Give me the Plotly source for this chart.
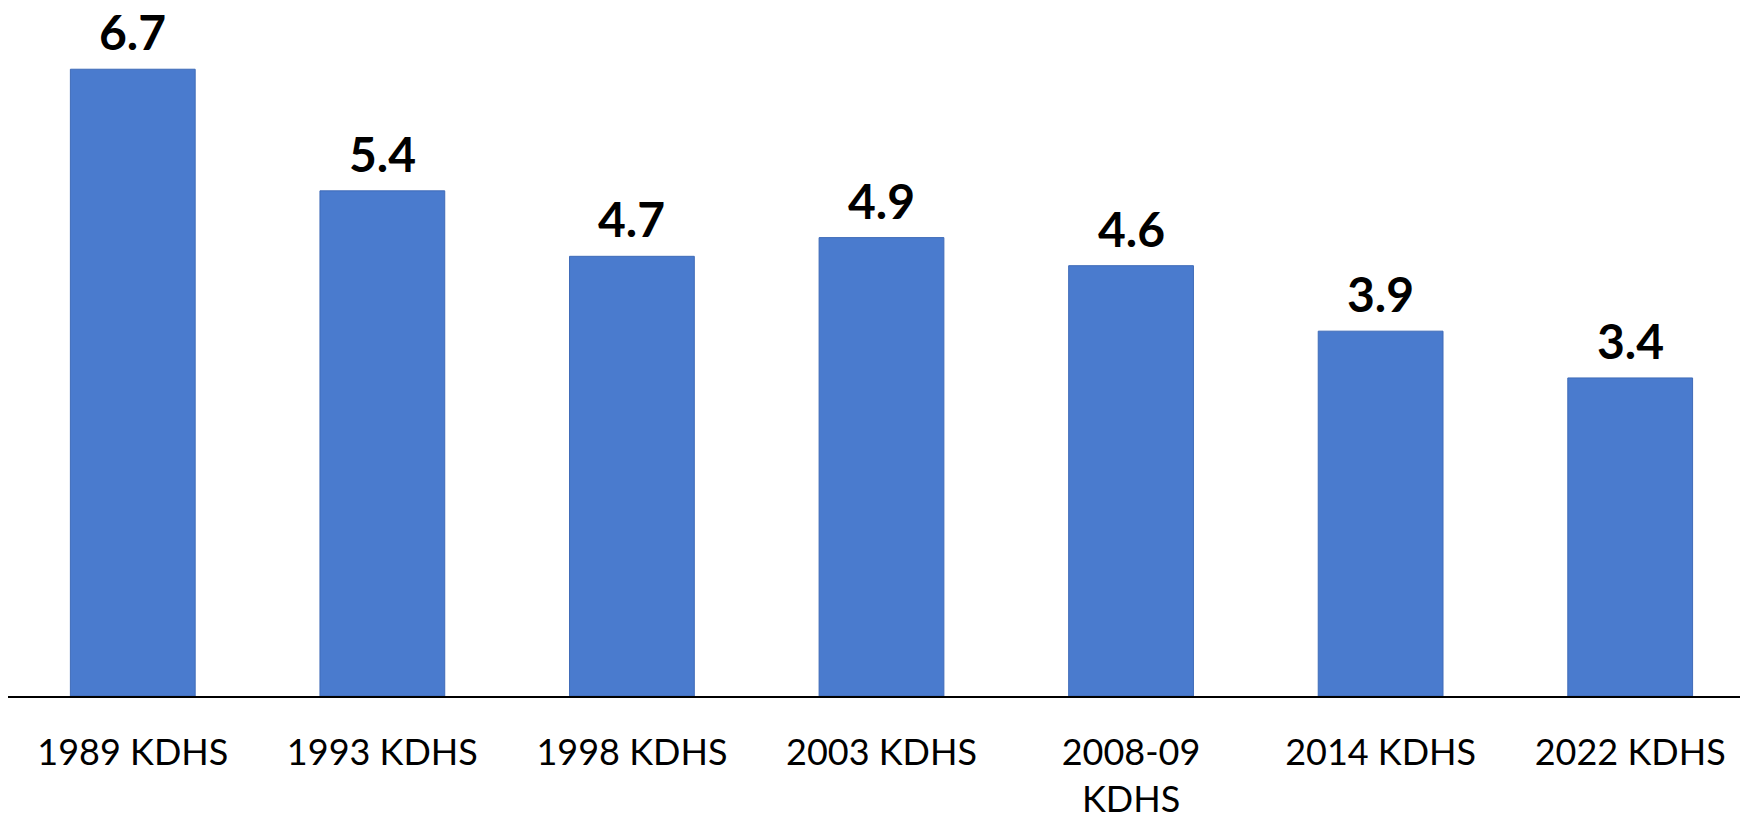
import plotly.graph_objects as go

categories = ["1989 KDHS", "1993 KDHS", "1998 KDHS", "2003 KDHS", "2008-09 KDHS", "2014 KDHS", "2022 KDHS"]
tick_labels = ["1989 KDHS", "1993 KDHS", "1998 KDHS", "2003 KDHS", "2008-09<br>KDHS", "2014 KDHS", "2022 KDHS"]
values = [6.7, 5.4, 4.7, 4.9, 4.6, 3.9, 3.4]

fig = go.Figure()
fig.add_trace(go.Bar(
    x=categories,
    y=values,
    marker=dict(color="#4A7BCE", line=dict(color="#3F6BB8", width=1)),
    width=0.5,
))

for c, v in zip(categories, values):
    fig.add_annotation(
        x=c, y=v, text=f"<b>{v:.1f}</b>", showarrow=False,
        yanchor="bottom", yshift=7,
        font=dict(family="Lato", size=48, color="black"),
    )

fig.update_layout(
    width=1740, height=818,
    margin=dict(l=8, r=0, t=0, b=122),
    paper_bgcolor="white", plot_bgcolor="white",
    showlegend=False,
    xaxis=dict(
        tickmode="array", tickvals=categories, ticktext=tick_labels,
        range=[-0.5, 6.44], automargin=False,
        showline=True, linecolor="black", linewidth=2,
        showgrid=False, ticks="",
        tickfont=dict(family="Lato", size=36, color="black"),
        ticklabelstandoff=24,
    ),
    yaxis=dict(range=[0, 7.44], visible=False, showgrid=False),
)

fig.write_html(
    "out.html",
    config={"displayModeBar": False},
    post_script="document.body.style.margin='0';document.body.style.overflow='hidden';",
)
